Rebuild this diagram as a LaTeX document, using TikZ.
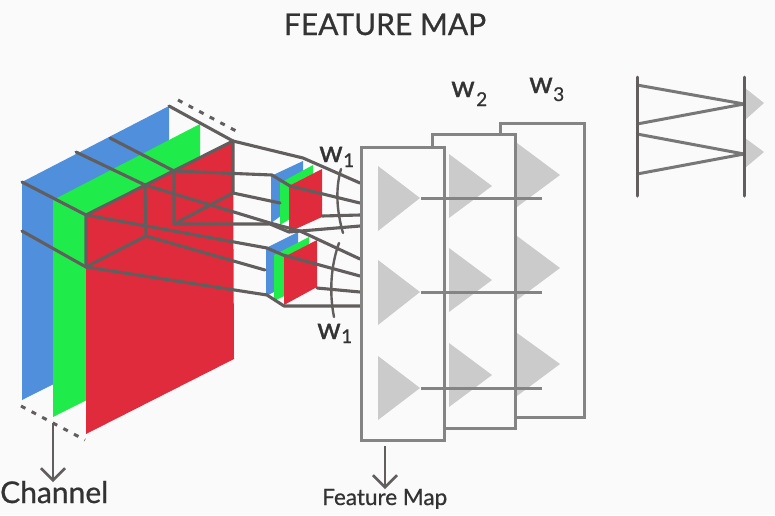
\documentclass[tikz,border=0pt]{standalone}
\usepackage{fontspec}
\setmainfont{Lato}
\newfontfamily\heavy[FakeBold=0.7]{Lato}
\newfontfamily\heavier[FakeBold=1.1]{Lato}
\usetikzlibrary{arrows.meta}
\definecolor{bgc}{HTML}{FAFAFA}
\definecolor{blueC}{HTML}{4F8FDC}
\definecolor{greenC}{HTML}{1FEB4A}
\definecolor{redC}{HTML}{E02B3C}
\definecolor{wire}{HTML}{625E5E}
\definecolor{boxC}{HTML}{848484}
\definecolor{triC}{HTML}{CBCBCB}
\definecolor{ink}{HTML}{333333}
\tikzset{
  wirepath/.style={draw=wire,line width=3.1pt,line join=round,line cap=round},
  thinwire/.style={draw=wire,line width=2.4pt,line cap=round},
  dashline/.style={draw=wire,line width=3pt,dash pattern=on 5pt off 7pt},
  layerbox/.style={draw=boxC,line width=3pt,line join=miter},
  tri/.style={fill=triC,draw=none},
  rowline/.style={draw=boxC,line width=3pt},
  ortho/.style={draw=boxC!90!black,line width=3pt,line join=round},
  rail/.style={draw=wire,line width=3pt,line cap=round},
  downarrow/.style={draw=wire,line width=2.6pt,-{Straight Barb[length=12pt,width=24pt,line width=2.6pt]}},
  wlabel/.style={text=ink,inner sep=0pt,anchor=base west,font=\heavier\fontsize{30}{30}\selectfont},
  wsub/.style={text=ink,inner sep=0pt,anchor=base west,font=\heavy\fontsize{19}{19}\selectfont}
}
\begin{document}
\begin{tikzpicture}[x=1pt,y=-1pt]
\fill[bgc] (0,0) rectangle (775,515);
\useasboundingbox (0,0) rectangle (775,515);

% big volume: named corners
\coordinate (bTL) at (22,182);  \coordinate (bTR) at (169,106);
\coordinate (gTL) at (53,200);  \coordinate (gTR) at (200,124);
\coordinate (rTL) at (86,215);  \coordinate (rTR) at (233,141);
\coordinate (rBL) at (86,267);  \coordinate (rBR) at (233,193);
\coordinate (m1T) at (174,171); \coordinate (m1B) at (174,224);
\coordinate (m2T) at (145,185); \coordinate (m2B) at (146,236);
\coordinate (e1) at (110,138);  \coordinate (e2) at (76,152);
\coordinate (e3) at (22,231);

\fill[blueC] (bTL) -- (bTR) -- (169,326) -- (22,400) -- cycle;
\fill[greenC] (gTL) -- (gTR) -- (200,343) -- (53,417) -- cycle;
\fill[redC] (rTL) -- (rTR) -- (234,359) -- (86,434) -- cycle;

\draw[dashline] (178,100) -- (238,132);
\draw[dashline] (21,406) -- (85,440);

% small cubes
\fill[blueC] (271,176) -- (303,161) -- (303,200) -- (271,223) -- cycle;
\fill[greenC] (280,183) -- (313,165) -- (313,205) -- (280,225) -- cycle;
\fill[redC] (289,186) -- (322,169) -- (322,217) -- (289,232) -- cycle;
\fill[blueC] (266,248) -- (298,232) -- (298,280) -- (266,296) -- cycle;
\fill[greenC] (274,255) -- (309,237) -- (309,284) -- (274,301) -- cycle;
\fill[redC] (284,257) -- (317,240) -- (317,287) -- (284,305) -- cycle;

% wires on the volume
\draw[wirepath] (bTR) -- (rTR) -- (rTL) -- (bTL);
\draw[wirepath] (e1) -- (m1T) -- (m1B) -- (rBR) -- (rTR);
\draw[wirepath] (e2) -- (m2T) -- (m2B) -- (rBL) -- (rTL);
\draw[wirepath] (e3) -- (rBL);

% wires to the layer
\draw[wirepath] (rTR) -- (303,158) -- (360,183);
\draw[wirepath] (m1T) -- (272,175) -- (290,186) -- (360,203);
\draw[wirepath] (rBR) -- (280,203);
\draw[wirepath] (322,216) -- (360,215);
\draw[wirepath] (m1B) -- (270,224) -- (289,232) -- (360,226);
\draw[wirepath] (m2T) -- (270,223) -- (300,231) -- (360,259);
\draw[wirepath] (rTL) -- (267,248) -- (283,255) -- (360,276);
\draw[wirepath] (m2B) -- (265,270);
\draw[wirepath] (317,288) -- (360,292);
\draw[wirepath] (rBL) -- (267,295) -- (284,306) -- (360,306);

% arcs
\draw[thinwire] (341,169) .. controls (335,190) and (337,212) .. (343,233);
\draw[thinwire] (339,243) .. controls (331,265) and (329,292) .. (334,317);

% triangles
\fill[tri] (517,143) -- (560,175) -- (517,207) -- cycle;
\fill[tri] (517,236) -- (560,268) -- (517,300) -- cycle;
\fill[tri] (517,333) -- (560,364) -- (517,396) -- cycle;
\fill[tri] (449,154) -- (492,186) -- (449,218) -- cycle;
\fill[tri] (449,248) -- (492,280) -- (449,312) -- cycle;
\fill[tri] (449,343) -- (492,375) -- (449,407) -- cycle;
\fill[tri] (378,166) -- (420,198) -- (378,231) -- cycle;
\fill[tri] (378,260) -- (420,292) -- (378,325) -- cycle;
\fill[tri] (378,356) -- (420,388) -- (378,420) -- cycle;

% layer boxes
\draw[layerbox] (500,134) -- (500,123) -- (584,123) -- (584,417) -- (515,417);
\draw[layerbox] (444,147) -- (432,147) -- (432,134) -- (515,134) -- (515,428) -- (444,428);
\draw[layerbox] (361,147) rectangle (444,440);

\draw[rowline] (421,198) -- (542,198);
\draw[rowline] (421,292) -- (542,292);
\draw[rowline] (421,388) -- (542,388);

% connectivity sketch
\fill[tri] (745,88) -- (764,103) -- (745,120) -- cycle;
\fill[tri] (745,138) -- (764,152) -- (745,168) -- cycle;
\draw[ortho] (637,85) -- (744,104) -- (637,124);
\draw[ortho] (637,134) -- (744,154) -- (637,174);
\draw[rail] (637,77) -- (637,196);
\draw[rail] (744,77) -- (744,196);

% arrows
\coordinate (chanS) at (53,423); \coordinate (chanE) at (53,482);
\coordinate (fmS) at (385,446);  \coordinate (fmE) at (385,489);
\draw[downarrow] (chanS) -- (chanE);
\draw[downarrow] (fmS) -- (fmE);

% text
\node[text=ink,inner sep=0pt,anchor=base,font=\heavy\fontsize{30}{30}\selectfont] (title) at (385,35) {FEATURE MAP};
\node[text=ink,inner sep=0pt,anchor=base west,font=\heavy\fontsize{30}{30}\selectfont] (chan) at (0,503) {Channel};
\node[text=ink,inner sep=0pt,anchor=base west,font=\heavy\fontsize{22.5}{23}\selectfont] (fm) at (322,505) {Feature Map};
\node[wlabel] (w1a) at (319,162) {w};
\node[wsub] (w1as) at (343,167) {1};
\node[wlabel] (w1b) at (317,339) {w};
\node[wsub] (w1bs) at (341,343) {1};
\node[wlabel] (w2) at (451,97) {w};
\node[wsub] (w2s) at (476,106) {2};
\node[wlabel] (w3) at (529,93) {w};
\node[wsub] (w3s) at (553,101) {3};
\end{tikzpicture}
\end{document}
